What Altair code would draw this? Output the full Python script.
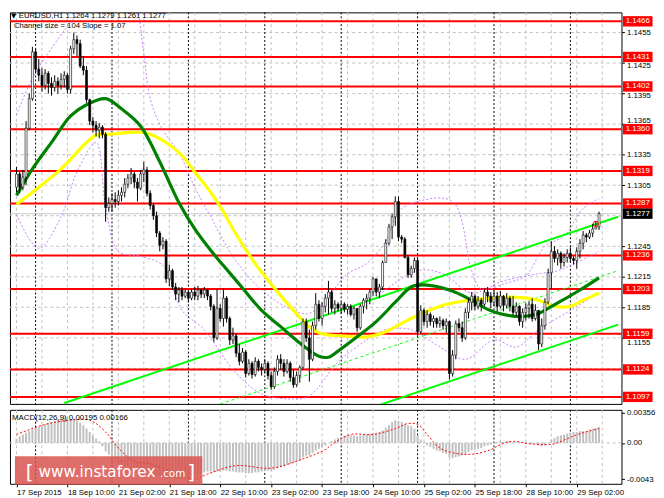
import json
import altair as alt
import pandas as pd

FONT = "Liberation Sans"

# ---------------- price data (EURUSD H1) ----------------
first_open = 1.1303
closes = [
    1.1316, 1.1303, 1.1313, 1.1361, 1.1390, 1.1436, 1.1419, 1.1413, 1.1403, 1.1415,
    1.1405, 1.1401, 1.1407, 1.1403, 1.1409, 1.1413, 1.1399, 1.1439, 1.1448, 1.1444,
    1.1422, 1.1418, 1.1389, 1.1368, 1.1364, 1.1359, 1.1362, 1.1355, 1.1283, 1.1287,
    1.1291, 1.1289, 1.1295, 1.1298, 1.1306, 1.1312, 1.1316, 1.1308, 1.1302, 1.1316,
    1.1320, 1.1297, 1.1285, 1.1275, 1.1258, 1.1246, 1.1250, 1.1213, 1.1221, 1.1205,
    1.1198, 1.1202, 1.1196, 1.1200, 1.1194, 1.1200, 1.1196, 1.1202, 1.1198, 1.1202,
    1.1196, 1.1186, 1.1155, 1.1184, 1.1174, 1.1194, 1.1174, 1.1153, 1.1157, 1.1140,
    1.1132, 1.1141, 1.1120, 1.1130, 1.1119, 1.1132, 1.1126, 1.1124, 1.1130, 1.1118,
    1.1107, 1.1122, 1.1134, 1.1130, 1.1122, 1.1130, 1.1116, 1.1109, 1.1118, 1.1126,
    1.1171, 1.1155, 1.1134, 1.1167, 1.1188, 1.1174, 1.1186, 1.1194, 1.1200, 1.1184,
    1.1188, 1.1184, 1.1188, 1.1183, 1.1186, 1.1178, 1.1184, 1.1165, 1.1186, 1.1192,
    1.1194, 1.1200, 1.1213, 1.1200, 1.1205, 1.1229, 1.1248, 1.1264, 1.1274, 1.1289,
    1.1254, 1.1252, 1.1234, 1.1217, 1.1223, 1.1231, 1.1161, 1.1182, 1.1171, 1.1178,
    1.1171, 1.1174, 1.1169, 1.1172, 1.1167, 1.1171, 1.1120, 1.1138, 1.1169, 1.1165,
    1.1155, 1.1180, 1.1190, 1.1196, 1.1186, 1.1192, 1.1188, 1.1200, 1.1196, 1.1190,
    1.1196, 1.1186, 1.1196, 1.1187, 1.1194, 1.1186, 1.1180, 1.1186, 1.1171, 1.1180,
    1.1184, 1.1188, 1.1174, 1.1182, 1.1149, 1.1167, 1.1190, 1.1219, 1.1240, 1.1233,
    1.1238, 1.1229, 1.1234, 1.1238, 1.1233, 1.1231, 1.1240, 1.1248, 1.1256, 1.1254,
    1.1258, 1.1262, 1.1264, 1.1277,
]
highs = [
    1.1323, 1.1318, 1.1320, 1.1368, 1.1395, 1.1441, 1.1439, 1.1429, 1.1420, 1.1419,
    1.1417, 1.1411, 1.1413, 1.1411, 1.1415, 1.1417, 1.1415, 1.1442, 1.1455, 1.1452,
    1.1448, 1.1432, 1.1422, 1.1390, 1.1372, 1.1368, 1.1366, 1.1364, 1.1357, 1.1293,
    1.1297, 1.1298, 1.1300, 1.1303, 1.1312, 1.1316, 1.1322, 1.1318, 1.1312, 1.1320,
    1.1328, 1.1323, 1.1300, 1.1287, 1.1279, 1.1260, 1.1254, 1.1252, 1.1227, 1.1223,
    1.1209, 1.1205, 1.1205, 1.1203, 1.1202, 1.1203, 1.1205, 1.1206, 1.1203, 1.1205,
    1.1203, 1.1198, 1.1188, 1.1203, 1.1188, 1.1204, 1.1196, 1.1176, 1.1165, 1.1159,
    1.1149, 1.1145, 1.1143, 1.1134, 1.1132, 1.1136, 1.1134, 1.1130, 1.1134, 1.1132,
    1.1122, 1.1126, 1.1138, 1.1139, 1.1134, 1.1134, 1.1132, 1.1124, 1.1122, 1.1128,
    1.1174, 1.1174, 1.1163, 1.1171, 1.1199, 1.1192, 1.1190, 1.1198, 1.1211, 1.1202,
    1.1192, 1.1190, 1.1190, 1.1190, 1.1188, 1.1188, 1.1186, 1.1184, 1.1188, 1.1194,
    1.1198, 1.1203, 1.1215, 1.1213, 1.1208, 1.1231, 1.1252, 1.1267, 1.1277, 1.1294,
    1.1294, 1.1256, 1.1254, 1.1236, 1.1226, 1.1234, 1.1233, 1.1187, 1.1184, 1.1182,
    1.1180, 1.1177, 1.1175, 1.1176, 1.1174, 1.1174, 1.1172, 1.1143, 1.1172, 1.1174,
    1.1171, 1.1184, 1.1194, 1.1200, 1.1198, 1.1196, 1.1194, 1.1203, 1.1205, 1.1200,
    1.1202, 1.1200, 1.1201, 1.1197, 1.1199, 1.1196, 1.1196, 1.1190, 1.1187, 1.1184,
    1.1189, 1.1191, 1.1194, 1.1188, 1.1182, 1.1174, 1.1194, 1.1223, 1.1250, 1.1245,
    1.1242, 1.1240, 1.1238, 1.1242, 1.1244, 1.1235, 1.1244, 1.1252, 1.1260, 1.1258,
    1.1261, 1.1267, 1.1270, 1.1279,
]
lows = [
    1.1298, 1.1297, 1.1300, 1.1305, 1.1359, 1.1388, 1.1415, 1.1407, 1.1397, 1.1399,
    1.1395, 1.1393, 1.1397, 1.1395, 1.1399, 1.1401, 1.1395, 1.1395, 1.1434, 1.1432,
    1.1420, 1.1413, 1.1386, 1.1364, 1.1357, 1.1353, 1.1351, 1.1351, 1.1269, 1.1279,
    1.1279, 1.1283, 1.1285, 1.1289, 1.1293, 1.1302, 1.1306, 1.1302, 1.1289, 1.1300,
    1.1308, 1.1294, 1.1281, 1.1271, 1.1254, 1.1240, 1.1242, 1.1209, 1.1206, 1.1202,
    1.1192, 1.1190, 1.1192, 1.1194, 1.1190, 1.1192, 1.1192, 1.1192, 1.1194, 1.1194,
    1.1192, 1.1182, 1.1151, 1.1153, 1.1171, 1.1166, 1.1170, 1.1148, 1.1149, 1.1136,
    1.1128, 1.1130, 1.1116, 1.1118, 1.1115, 1.1117, 1.1122, 1.1118, 1.1120, 1.1114,
    1.1104, 1.1105, 1.1118, 1.1124, 1.1117, 1.1120, 1.1112, 1.1106, 1.1107, 1.1111,
    1.1124, 1.1151, 1.1112, 1.1132, 1.1163, 1.1171, 1.1167, 1.1180, 1.1178, 1.1180,
    1.1178, 1.1181, 1.1179, 1.1180, 1.1178, 1.1176, 1.1173, 1.1161, 1.1163, 1.1179,
    1.1183, 1.1188, 1.1196, 1.1196, 1.1194, 1.1202, 1.1229, 1.1246, 1.1252, 1.1265,
    1.1250, 1.1248, 1.1233, 1.1214, 1.1214, 1.1219, 1.1157, 1.1159, 1.1167, 1.1165,
    1.1167, 1.1165, 1.1165, 1.1165, 1.1163, 1.1160, 1.1114, 1.1117, 1.1134, 1.1161,
    1.1151, 1.1153, 1.1174, 1.1182, 1.1182, 1.1183, 1.1181, 1.1186, 1.1190, 1.1184,
    1.1186, 1.1181, 1.1184, 1.1181, 1.1184, 1.1181, 1.1177, 1.1176, 1.1167, 1.1165,
    1.1172, 1.1174, 1.1171, 1.1172, 1.1143, 1.1146, 1.1163, 1.1188, 1.1203, 1.1229,
    1.1226, 1.1223, 1.1225, 1.1229, 1.1229, 1.1227, 1.1223, 1.1233, 1.1242, 1.1249,
    1.1252, 1.1254, 1.1262, 1.1261,
]

# ---------------- moving averages / bands (read at sample bars) ----------------
green_idx = [0, 5, 11, 17, 22, 28, 33, 39, 45, 51, 56, 61, 65, 71, 77, 83, 89, 95, 98, 101,
             107, 113, 119, 124, 128, 136, 143, 148, 153, 159, 164, 167, 171, 177, 183]
green_val = [1.1295, 1.1321, 1.1347, 1.1373, 1.1384, 1.1390, 1.1380, 1.1363, 1.1328, 1.1288,
             1.1262, 1.1241, 1.1226, 1.1204, 1.1182, 1.1166, 1.1150, 1.1137, 1.1136, 1.1142,
             1.1156, 1.1171, 1.1190, 1.1205, 1.1207, 1.1202, 1.1192, 1.1183, 1.1178, 1.1176,
             1.1179, 1.1184, 1.1191, 1.1202, 1.1214]
yellow_idx = [0, 5, 14, 22, 25, 29, 39, 42, 47, 52, 56, 61, 65, 68, 75, 81, 87, 92, 96, 102,
              110, 116, 122, 126, 134, 142, 149, 156, 164, 169, 174, 178, 183]
yellow_val = [1.1286, 1.1298, 1.1321, 1.1347, 1.1354, 1.1355, 1.1357, 1.1355, 1.1347, 1.1334,
              1.1318, 1.1298, 1.1279, 1.1262, 1.1228, 1.1204, 1.1182, 1.1166, 1.1159, 1.1157,
              1.1156, 1.1161, 1.1171, 1.1177, 1.1187, 1.1192, 1.1194, 1.1195, 1.1192, 1.1186,
              1.1186, 1.1192, 1.1199]
# dotted bands: upper (a), lower (b), middle (c, right part)
band_a_idx = [0, 5, 12, 17, 22, 29, 37, 40, 42, 46, 51, 56, 61, 68, 77, 87, 92, 99, 104, 110,
              116, 120, 126, 137, 143, 146, 154, 160, 166, 172, 178, 183]
band_a_val = [1.1374, 1.1410, 1.1444, 1.1465, 1.1483, 1.1521, 1.1487, 1.1434, 1.1390, 1.1359,
              1.1337, 1.1303, 1.1274, 1.1235, 1.1202, 1.1182, 1.1179, 1.1200, 1.1218, 1.1228,
              1.1250, 1.1279, 1.1289, 1.1289, 1.1221, 1.1203, 1.1209, 1.1216, 1.1245, 1.1255,
              1.1282, 1.1292]
band_b_idx = [0, 7, 14, 19, 25, 28, 32, 39, 46, 52, 59, 68, 77, 87, 92, 101, 110, 116, 124, 132,
              141, 150, 157, 164, 174, 183]
band_b_val = [1.1276, 1.1243, 1.1274, 1.1318, 1.1347, 1.1284, 1.1240, 1.1235, 1.1226, 1.1182,
              1.1163, 1.1124, 1.1100, 1.1095, 1.1098, 1.1131, 1.1153, 1.1163, 1.1163, 1.1148,
              1.1134, 1.1153, 1.1146, 1.1163, 1.1182, 1.1199]
band_c_idx = [113, 126, 134, 143, 153, 164, 170, 176, 183]
band_c_val = [1.1195, 1.1221, 1.1218, 1.1199, 1.1211, 1.1218, 1.1221, 1.1229, 1.1240]

# regression channel (two end points each)
chan_upper_idx = [15, 189]
chan_upper_val = [1.1091, 1.1274]
chan_mid_idx = [64, 189]
chan_mid_val = [1.1090, 1.1221]
chan_lower_idx = [113, 189]
chan_lower_val = [1.1088, 1.1168]
touch_idx = [182]
touch_val = [1.1267]

levels = [1.1466, 1.1431, 1.1402, 1.1360, 1.1319, 1.1287, 1.1236, 1.1203, 1.1159, 1.1124, 1.1097]
level_labels = ["1.1466", "1.1431", "1.1402", "1.1360", "1.1319", "1.1287", "1.1236",
                "1.1203", "1.1159", "1.1124", "1.1097"]
last_price = [1.1277]
last_label = ["1.1277"]
# tick labels that are not hidden under a level box
price_ticks = [1.1155, 1.1185, 1.1215, 1.1245, 1.1305, 1.1335, 1.1365, 1.1395, 1.1425, 1.1455]
grid_prices = [1.1125, 1.1155, 1.1185, 1.1215, 1.1245, 1.1275, 1.1305, 1.1335, 1.1365,
               1.1395, 1.1425, 1.1455]

# ---------------- MACD(12,26,9) ----------------
macd_hist = [
    0.0005, 0.0008, 0.0010, 0.0012, 0.0014, 0.0016, 0.0018, 0.0019, 0.0021, 0.0022,
    0.0024, 0.0025, 0.0026, 0.0028, 0.0029, 0.0030, 0.0029, 0.0028, 0.0029, 0.0027,
    0.0024, 0.0021, 0.0017, 0.0013, 0.0008, 0.0005, 0.0002, -0.0004, -0.0010, -0.0014,
    -0.0018, -0.0021, -0.0024, -0.0026, -0.0028, -0.0029, -0.0030, -0.0030, -0.0030, -0.0030,
    -0.0031, -0.0032, -0.0034, -0.0036, -0.0038, -0.0040, -0.0041, -0.0043, -0.0043, -0.0043,
    -0.0043, -0.0043, -0.0042, -0.0041, -0.0040, -0.0039, -0.0038, -0.0037, -0.0036, -0.0035,
    -0.0034, -0.0034, -0.0035, -0.0034, -0.0034, -0.0033, -0.0033, -0.0034, -0.0034, -0.0035,
    -0.0035, -0.0035, -0.0036, -0.0036, -0.0036, -0.0035, -0.0035, -0.0034, -0.0033, -0.0033,
    -0.0033, -0.0032, -0.0030, -0.0029, -0.0028, -0.0026, -0.0025, -0.0024, -0.0022, -0.0021,
    -0.0017, -0.0015, -0.0015, -0.0012, -0.0009, -0.0007, -0.0005, -0.0003, 0.0000, 0.0002,
    0.0004, 0.0006, 0.0007, 0.0008, 0.0009, 0.0009, 0.0009, 0.0008, 0.0009, 0.0010,
    0.0010, 0.0011, 0.0012, 0.0012, 0.0013, 0.0015, 0.0018, 0.0021, 0.0025, 0.0027,
    0.0026, 0.0025, 0.0023, 0.0021, 0.0020, 0.0017, 0.0009, 0.0004, 0.0001, -0.0003,
    -0.0005, -0.0007, -0.0009, -0.0010, -0.0012, -0.0013, -0.0017, -0.0018, -0.0017, -0.0016,
    -0.0015, -0.0013, -0.0011, -0.0009, -0.0008, -0.0007, -0.0006, -0.0004, -0.0003, -0.0002,
    0.0000, 0.0001, 0.0002, 0.0001, 0.0002, 0.0002, 0.0001, 0.0001, 0.0000, 0.0000,
    0.0000, -0.0001, -0.0001, -0.0001, -0.0003, -0.0004, -0.0003, 0.0000, 0.0004, 0.0006,
    0.0008, 0.0009, 0.0010, 0.0011, 0.0012, 0.0013, 0.0013, 0.0014, 0.0014, 0.0014,
    0.0016, 0.0017, 0.0018, 0.0019,
]
sig_idx = [0, 9, 17, 23, 28, 32, 37, 42, 50, 56, 60, 69, 80, 90, 97, 99, 105, 112, 119, 123,
           126, 129, 133, 139, 144, 149, 152, 156, 161, 166, 169, 173, 177, 183]
sig_val = [0.0010, 0.0022, 0.0027, 0.0027, 0.0013, -0.0006, -0.0022, -0.0025, -0.0036, -0.0043,
           -0.0037, -0.0027, -0.0030, -0.0019, -0.0008, -0.0002, 0.0010, 0.0010, 0.0017, 0.0023,
           0.0022, 0.0010, -0.0006, -0.0013, -0.0013, -0.0008, -0.0002, 0.0002, -0.0001, -0.0002,
           -0.0001, 0.0005, 0.0011, 0.0017]
macd_ticks = [-0.0043, 0.0, 0.00356]
macd_tick_labels = ["-0.0043", "0.00", "0.00356"]

# ---------------- time axis ----------------
time_labels = ["17 Sep 2015", "18 Sep 10:00", "21 Sep 02:00", "21 Sep 18:00", "22 Sep 10:00",
               "23 Sep 02:00", "23 Sep 18:00", "24 Sep 10:00", "25 Sep 02:00", "25 Sep 18:00",
               "28 Sep 10:00", "29 Sep 02:00"]
time_label_idx = [0, 16, 32, 48, 64, 80, 96, 112, 128, 144, 160, 176]
grid_idx = [0, 8, 16, 24, 32, 40, 48, 56, 64, 72, 80, 88, 96, 104, 112, 120, 128, 136, 144,
            152, 160, 168, 176, 184]
day_sep_idx = [6, 30, 54, 78, 102, 126, 150, 174]

# ---------------- frames ----------------
n = len(closes)
opens = [first_open] + closes[:-1]
candles = pd.DataFrame({"i": list(range(n)), "o": opens, "h": highs, "l": lows, "c": closes})


def series(idx, val, name):
    return pd.DataFrame({"i": idx, "p": val, "g": name})


chan_solid = pd.concat([series(chan_upper_idx, chan_upper_val, "u"),
                        series(chan_lower_idx, chan_lower_val, "l")])
chan_dash = series(chan_mid_idx, chan_mid_val, "m")
bands = pd.concat([series(band_a_idx, band_a_val, "a"), series(band_b_idx, band_b_val, "b"),
                   series(band_c_idx, band_c_val, "c")])
green = series(green_idx, green_val, "g")
yellow = series(yellow_idx, yellow_val, "y")
lv = pd.DataFrame({"p": levels, "t": level_labels})
lastdf = pd.DataFrame({"p": last_price, "t": last_label})
gridf = pd.DataFrame({"i": grid_idx})
hgridf = pd.DataFrame({"p": grid_prices})
dayf = pd.DataFrame({"i": day_sep_idx})
touchf = pd.DataFrame({"i": touch_idx, "p": touch_val})
macdf = pd.DataFrame({"i": list(range(n)), "v": macd_hist})
sigf = pd.DataFrame({"i": sig_idx, "v": sig_val})
one = pd.DataFrame({"a": [0]})

W = 620
H_MAIN = 397
H_MACD = 75
xs = alt.Scale(domain=[-0.5, 188.5], nice=False, zero=False)
ys = alt.Scale(domain=[1.10901, 1.14748], nice=False, zero=False)
ms = alt.Scale(domain=[-0.00486, 0.00393], nice=False, zero=False)

# tick labels that sit next to a level box are nudged clear of it
label_nudge = {
    "condition": [
        {"test": "abs(datum.value - 1.1365) < 0.00001", "value": -4},
        {"test": "abs(datum.value - 1.1425) < 0.00001", "value": 3},
        {"test": "abs(datum.value - 1.1395) < 0.00001", "value": 2},
        {"test": "abs(datum.value - 1.1155) < 0.00001", "value": 5},
    ],
    "value": 0,
}
price_axis = alt.Axis(orient="right", values=price_ticks, format=".4f", grid=False,
                      tickSize=3, labelPadding=2, title=None, domain=False,
                      labelOffset=label_nudge)


def PX(f="i:Q"):
    return alt.X(f, scale=xs, axis=None, title=None)


def PY(f):
    return alt.Y(f, scale=ys, axis=price_axis, title=None)


SMOOTH = "catmull-rom"
vgrid = alt.Chart(gridf).mark_rule(color="#c0c0c0", strokeDash=[3, 3], strokeWidth=1).encode(x=PX())
hgrid = alt.Chart(hgridf).mark_rule(color="#c0c0c0", strokeDash=[3, 3], strokeWidth=1).encode(y=PY("p:Q"))
vday = alt.Chart(dayf).mark_rule(color="#000000", strokeDash=[2, 2], strokeWidth=1).encode(x=PX())
lvl_rules = alt.Chart(lv).mark_rule(color="#ff0000", strokeWidth=2).encode(y=PY("p:Q"))
last_rule = alt.Chart(lastdf).mark_rule(color="#c8c8c8", strokeWidth=1).encode(y=PY("p:Q"))
band_lines = alt.Chart(bands).mark_line(color="#c77dff", strokeDash=[2, 2], strokeWidth=1,
                                        interpolate=SMOOTH, clip=True).encode(
    x=PX(), y=PY("p:Q"), detail="g:N")
ch1 = alt.Chart(chan_solid).mark_line(color="#00ff00", strokeWidth=2, clip=True).encode(
    x=PX(), y=PY("p:Q"), detail="g:N")
ch2 = alt.Chart(chan_dash).mark_line(color="#00ff00", strokeWidth=1, strokeDash=[3, 3], clip=True).encode(
    x=PX(), y=PY("p:Q"))
yl = alt.Chart(yellow).mark_line(color="#ffff00", strokeWidth=3.2, interpolate=SMOOTH, clip=True).encode(
    x=PX(), y=PY("p:Q"))
gl = alt.Chart(green).mark_line(color="#008000", strokeWidth=3.2, interpolate=SMOOTH, clip=True).encode(
    x=PX(), y=PY("p:Q"))
wicks = alt.Chart(candles).mark_rule(color="#000000", strokeWidth=1).encode(
    x=PX(), y=PY("l:Q"), y2=alt.Y2("h:Q"))
bodies = alt.Chart(candles).mark_bar(size=2, stroke="#000000", strokeWidth=0.6).encode(
    x=PX(), y=PY("o:Q"), y2=alt.Y2("c:Q"),
    fill=alt.condition("datum.c >= datum.o", alt.value("#ffffff"), alt.value("#000000")))
touch = alt.Chart(touchf).mark_point(shape="circle", size=28, color="#ff0000", filled=False,
                                     strokeWidth=1, opacity=1).encode(x=PX(), y=PY("p:Q"))
BOX = "M-1,-0.35H1V0.35H-1Z"
lv_box = alt.Chart(lv).mark_point(shape=BOX, size=900, filled=True, color="#ff0000", opacity=1,
                                  strokeWidth=0).encode(x=alt.value(636.5), y=PY("p:Q"))
lv_txt = alt.Chart(lv).mark_text(color="#ffffff", font=FONT, fontSize=8, align="center",
                                 baseline="middle").encode(x=alt.value(636.5), y=PY("p:Q"), text="t:N")
last_box = alt.Chart(lastdf).mark_point(shape=BOX, size=900, filled=True, color="#000000", opacity=1,
                                        strokeWidth=0).encode(x=alt.value(636.5), y=PY("p:Q"))
last_txt = alt.Chart(lastdf).mark_text(color="#ffffff", font=FONT, fontSize=8, align="center",
                                       baseline="middle").encode(x=alt.value(636.5), y=PY("p:Q"), text="t:N")
hdr_tri = alt.Chart(one).mark_text(font="DejaVu Sans", fontSize=7, align="left", baseline="middle",
                                   color="#000000").encode(x=alt.value(1), y=alt.value(4), text=alt.value("▼"))
hdr1 = alt.Chart(one).mark_text(font=FONT, fontSize=7.8, align="left", baseline="middle",
                                color="#000000").encode(
    x=alt.value(9), y=alt.value(4), text=alt.value("EURUSD,H1  1.1264 1.1279 1.1261 1.1277"))
hdr2 = alt.Chart(one).mark_text(font=FONT, fontSize=7.8, align="left", baseline="middle",
                                color="#000000").encode(
    x=alt.value(4), y=alt.value(13.5), text=alt.value("Channel size = 104  Slope = 1.07"))

main = alt.layer(vgrid, hgrid, vday, last_rule, lvl_rules, band_lines, ch2, ch1, yl, gl, wicks, bodies,
                 touch, lv_box, lv_txt, last_box, last_txt, hdr_tri, hdr1, hdr2).properties(
    width=W, height=H_MAIN)

# ---------------- MACD panel ----------------
time_axis = alt.Axis(values=time_label_idx,
                     labelExpr=f"{json.dumps(time_labels)}[indexof({json.dumps(time_label_idx)}, datum.value)]",
                     labelAlign="left", labelPadding=2, tickSize=3, grid=False, domain=False,
                     labelOverlap=False, labelFlush=False, title=None)
macd_axis = alt.Axis(orient="right", values=macd_ticks,
                     labelExpr=f"{json.dumps(macd_tick_labels)}[indexof({json.dumps(macd_ticks)}, datum.value)]",
                     grid=False, tickSize=3, labelPadding=2, domain=False, title=None)


def MX(f="i:Q"):
    return alt.X(f, scale=xs, axis=time_axis, title=None)


def MY(f):
    return alt.Y(f, scale=ms, axis=macd_axis, title=None)


m_vgrid = alt.Chart(gridf).mark_rule(color="#c0c0c0", strokeDash=[3, 3], strokeWidth=1).encode(x=MX())
m_vday = alt.Chart(dayf).mark_rule(color="#000000", strokeDash=[2, 2], strokeWidth=1).encode(x=MX())
m_zero = alt.Chart(one).mark_rule(color="#c0c0c0", strokeDash=[3, 3], strokeWidth=1).encode(
    y=alt.YDatum(0, scale=ms, axis=macd_axis))
m_hist = alt.Chart(macdf).mark_bar(size=2, color="#c0c0c0").encode(
    x=MX(), y=MY("v:Q"), y2=alt.Y2Datum(0))
m_sig = alt.Chart(sigf).mark_line(color="#ff0000", strokeDash=[2, 2], strokeWidth=1,
                                  interpolate=SMOOTH).encode(x=MX(), y=MY("v:Q"))
wm_box = alt.Chart(one).mark_rect(color="#d9534f", opacity=0.85).encode(
    x=alt.value(5), x2=alt.value(195), y=alt.value(47), y2=alt.value(76))
wm_l = alt.Chart(one).mark_text(font="DejaVu Sans", fontSize=20, color="#ffffff", align="left",
                                baseline="alphabetic").encode(x=alt.value(16), y=alt.value(70), text=alt.value("["))
wm_main = alt.Chart(one).mark_text(font="DejaVu Sans", fontSize=15.5, color="#ffffff", align="left",
                                   baseline="alphabetic").encode(x=alt.value(29), y=alt.value(68),
                                                                 text=alt.value("www.instaforex"))
wm_com = alt.Chart(one).mark_text(font="DejaVu Sans", fontSize=10.5, color="#ffffff", align="left",
                                  baseline="alphabetic").encode(x=alt.value(152), y=alt.value(68),
                                                                text=alt.value(".com"))
wm_r = alt.Chart(one).mark_text(font="DejaVu Sans", fontSize=20, color="#ffffff", align="left",
                                baseline="alphabetic").encode(x=alt.value(180), y=alt.value(70), text=alt.value("]"))
m_lbl = alt.Chart(one).mark_text(font=FONT, fontSize=8, align="left", baseline="middle",
                                 color="#000000").encode(
    x=alt.value(2), y=alt.value(8), text=alt.value("MACD(12,26,9) 0.00195 0.00166"))

macd = alt.layer(m_vgrid, m_vday, m_zero, m_hist, m_sig, wm_box, wm_l, wm_main, wm_com, wm_r,
                 m_lbl).properties(width=W, height=H_MACD)

chart = alt.vconcat(main, macd, spacing=3).properties(
    padding={"left": 0, "right": 0, "top": 0, "bottom": 0}, background="#ffffff"
).configure_view(stroke="#000000", strokeWidth=1).configure_axis(
    labelFont=FONT, labelFontSize=8, labelColor="#000000", tickColor="#000000"
)

chart.save("out.html", embed_options={"renderer": "svg", "actions": False})
